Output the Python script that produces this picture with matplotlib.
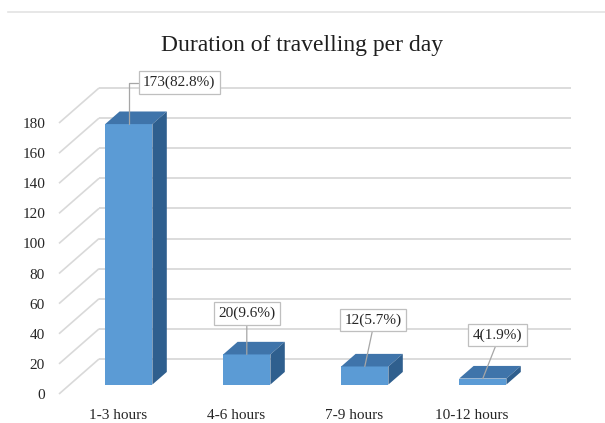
import matplotlib
matplotlib.use("Agg")
import matplotlib.pyplot as plt
from matplotlib.patches import Polygon
from matplotlib.lines import Line2D
import numpy as np

categories = ["1-3 hours", "4-6 hours", "7-9 hours", "10-12 hours"]
counts = [173, 20, 12, 4]
percents = [82.8, 9.6, 5.7, 1.9]
y_ticks = list(range(0, 181, 20))
title = "Duration of travelling per day"

FONT = "Liberation Serif"
FRONT = "#5B9BD5"
TOP = "#3F74AA"
SIDE = "#2F5F8E"
GRID = "#D9D9D9"
TEXT = "#262626"

W, H = 605, 423
fig = plt.figure(figsize=(W / 100, H / 100), dpi=100)
fig.patch.set_facecolor("white")

# front plane of the 3-D box: slots 0..4 horizontally, 0..180 vertically
ax = fig.add_axes([59 / W, 29 / H, 472 / W, 271 / H])
ax.set_xlim(0, 4)
ax.set_ylim(0, 180)
ax.patch.set_alpha(0)
for s in ax.spines.values():
    s.set_visible(False)

# oblique depth offset (in data units) from the front plane to the back wall
DX = 40 / 118
DY = 35 / (271 / 180)

# walls: back-wall horizontals and left-wall diagonals
for v in y_ticks:
    ax.plot([DX, 4 + DX], [v + DY, v + DY], color=GRID, lw=1.3,
            clip_on=False, zorder=1, solid_capstyle="butt")
    ax.plot([0, DX], [v, v + DY], color=GRID, lw=1.2,
            clip_on=False, zorder=1, solid_capstyle="butt")

# bars
d0, dd, bw = 0.27, 0.36, 0.40
xc = np.arange(len(categories)) + 0.5
xf = xc + d0 * DX
base = d0 * DY
ax.bar(xf, counts, width=bw, bottom=base, color=FRONT, zorder=3,
       edgecolor="none")
for x, v in zip(xf, counts):
    xl, xr = x - bw / 2, x + bw / 2
    top = base + v
    ox, oy = dd * DX, dd * DY
    ax.add_patch(Polygon([(xl, top), (xr, top), (xr + ox, top + oy),
                          (xl + ox, top + oy)], closed=True,
                         facecolor=TOP, edgecolor="none", zorder=3,
                         clip_on=False))
    ax.add_patch(Polygon([(xr, base), (xr + ox, base + oy),
                          (xr + ox, top + oy), (xr, top)], closed=True,
                         facecolor=SIDE, edgecolor="none", zorder=3,
                         clip_on=False))

# value labels with leader lines
offsets = [(36.4, 29.9), (0.0, 29.5), (6.1, 33.5), (10.4, 31.3)]
for i, (x, v, p) in enumerate(zip(xf, counts, percents)):
    if i == 0:
        arrow = dict(arrowstyle="-", color="#A6A6A6", lw=0.9,
                     relpos=(0, 0.5), shrinkA=0, shrinkB=0,
                     connectionstyle="angle,angleA=0,angleB=90,rad=0")
    else:
        arrow = dict(arrowstyle="-", color="#A6A6A6", lw=0.9,
                     relpos=(0.5, 0), shrinkA=0, shrinkB=0)
    ax.annotate(f"{v}({p}%)", xy=(x, base + v), xytext=offsets[i],
                textcoords="offset points", ha="center", va="center",
                fontsize=11, family=FONT, color=TEXT,
                bbox=dict(boxstyle="square,pad=0.3", fc="white",
                          ec="#BFBFBF", lw=0.9),
                arrowprops=arrow, zorder=6, annotation_clip=False)

# axes labels
ax.set_yticks(y_ticks)
ax.set_yticklabels([str(t) for t in y_ticks], family=FONT, fontsize=11,
                   color=TEXT)
ax.set_xticks(xc)
ax.set_xticklabels(categories, family=FONT, fontsize=11, color=TEXT)
ax.tick_params(axis="y", length=0, pad=10)
ax.tick_params(axis="x", length=0, pad=11)

fig.text(302.5 / W, 1 - 51 / H, title, ha="center", va="baseline",
         family=FONT, fontsize=17, color="#1F1F1F")

# thin frame edge along the top
fig.add_artist(Line2D([8 / W, 1], [1 - 12 / H, 1 - 12 / H],
                      color="#E3E3E3", lw=1.2))

fig.savefig("out.png", dpi=100)
